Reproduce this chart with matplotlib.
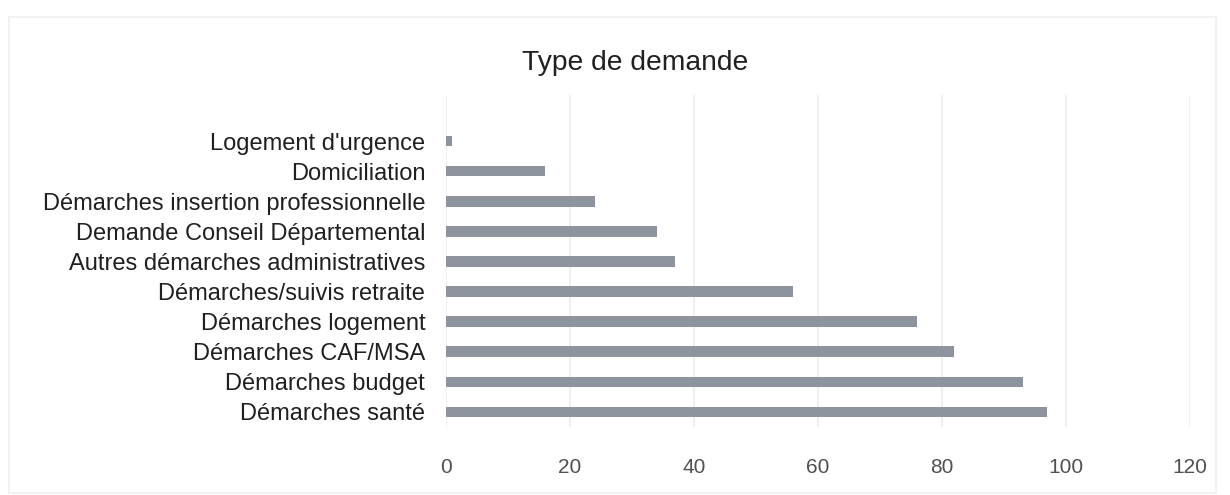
import numpy as np
import matplotlib.pyplot as plt
from matplotlib.patches import Rectangle

# data (bottom to top)
categories = ["Démarches santé", "Démarches budget", "Démarches CAF/MSA",
              "Démarches logement", "Démarches/suivis retraite",
              "Autres démarches administratives", "Demande Conseil Départemental",
              "Démarches insertion professionnelle", "Domiciliation",
              "Logement d'urgence"]
values = [97, 93, 82, 76, 56, 37, 34, 24, 16, 1]
xticks = [0, 20, 40, 60, 80, 100, 120]

plt.rcParams['font.family'] = ['Liberation Sans', 'DejaVu Sans']

fig = plt.figure(figsize=(12.3, 4.95), dpi=100)
ax = fig.add_axes([0.3626, 0.1374, 0.6049, 0.6707])

y = np.arange(len(categories))
ax.barh(y, values, height=0.35, color="#8e949e", zorder=3)

ax.set_xlim(0, 120)
ax.set_ylim(-0.5, 10.53)
ax.set_xticks(xticks)
ax.set_xticklabels([str(t) for t in xticks], fontsize=15, color="#505050")
ax.set_yticks(y)
ax.set_yticklabels(categories, fontsize=17, color="#202020")
ax.tick_params(axis='x', length=0, pad=22)
ax.tick_params(axis='y', length=0, pad=15)
ax.grid(axis='x', color="#ececf2", linewidth=1.2, zorder=0)
for s in ax.spines.values():
    s.set_visible(False)

fig.text(0.516, 0.873, "Type de demande", fontsize=20.3, ha='center',
         va='center', color="#202020")

# faint chart border from the scan
fig.patches.append(Rectangle((0.007, 0.005), 0.982, 0.96, transform=fig.transFigure,
                             fill=False, edgecolor="#f0f0f3", linewidth=1.2))

plt.savefig("out.png", dpi=100)
